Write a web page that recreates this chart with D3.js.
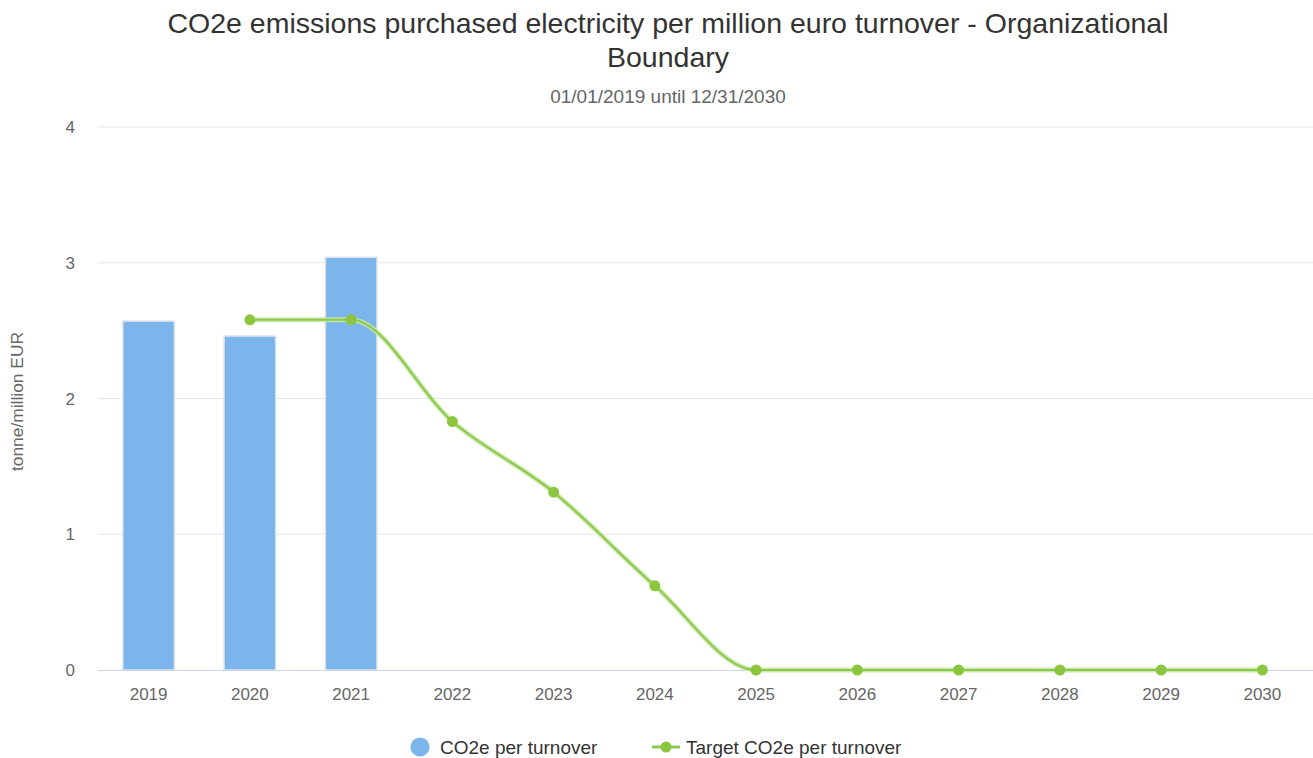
<!DOCTYPE html>
<html><head><meta charset="utf-8">
<script src="https://cdn.jsdelivr.net/npm/d3@7"></script>
<style>body{margin:0;background:#fff;} svg text{font-family:"Liberation Sans",Arial,sans-serif;}</style>
</head><body>
<svg id="c" width="1313" height="758" font-family="Liberation Sans, Arial, sans-serif"></svg>
<script>
const categories = ["2019","2020","2021","2022","2023","2024","2025","2026","2027","2028","2029","2030"];
const co2eValues = [2.57, 2.46, 3.04, null, null, null, null, null, null, null, null, null];
const targetValues = [null, 2.58, 2.58, 1.83, 1.31, 0.62, 0, 0, 0, 0, 0, 0];
const yTicks = [0, 1, 2, 3, 4];
const titleLines = ["CO2e emissions purchased electricity per million euro turnover - Organizational", "Boundary"];
const subtitle = "01/01/2019 until 12/31/2030";
const yTitle = "tonne/million EUR";
const seriesNames = ["CO2e per turnover", "Target CO2e per turnover"];

(function(){
const svg = d3.select("#c");
const pl = 98, pr = 1313, pt = 127, pb = 670;
const x = d3.scaleBand().domain(categories).range([pl, pr]).paddingInner(0.5).paddingOuter(0.25);
const xc = d3.scaleBand().domain(categories).range([pl, pr]);
const y = d3.scaleLinear().domain([0, 4]).range([pb, pt]);

// titles
svg.append("text").attr("x", 668).attr("y", 33).attr("text-anchor", "middle")
  .attr("font-size", 28.5).attr("fill", "#333").text(titleLines[0]);
svg.append("text").attr("x", 668).attr("y", 67).attr("text-anchor", "middle")
  .attr("font-size", 28.5).attr("fill", "#333").text(titleLines[1]);
svg.append("text").attr("x", 668).attr("y", 103).attr("text-anchor", "middle")
  .attr("font-size", 19).attr("fill", "#666").text(subtitle);

// grid
svg.append("g").selectAll("line").data(yTicks.filter(d => d > 0)).join("line")
  .attr("x1", pl).attr("x2", pr).attr("y1", d => y(d)).attr("y2", d => y(d))
  .attr("stroke", "#e6e6e6").attr("stroke-width", 1);
svg.append("g").selectAll("text").data(yTicks).join("text")
  .attr("x", 75).attr("y", d => y(d) + 6).attr("text-anchor", "end")
  .attr("font-size", 17).attr("fill", "#666").text(d => d);
svg.append("text").attr("transform", `translate(23,${(pt + pb) / 2 + 3}) rotate(-90)`)
  .attr("text-anchor", "middle").attr("font-size", 17.4).attr("fill", "#666").text(yTitle);

// bars
svg.append("g").selectAll("rect").data(categories.map((c, i) => ({c, v: co2eValues[i]})).filter(d => d.v != null)).join("rect")
  .attr("x", d => x(d.c) - 0.5).attr("width", x.bandwidth() + 1)
  .attr("y", d => y(d.v)).attr("height", d => y(0) - y(d.v))
  .attr("fill", "#7cb5ec").attr("stroke", "#dde3ea").attr("stroke-width", 1.5);

// x axis
svg.append("line").attr("x1", pl).attr("x2", pr).attr("y1", pb + 0.5).attr("y2", pb + 0.5)
  .attr("stroke", "#ccd6eb");
svg.append("g").selectAll("text").data(categories).join("text")
  .attr("x", d => xc(d) + xc.bandwidth() / 2).attr("y", 700).attr("text-anchor", "middle")
  .attr("font-size", 17).attr("fill", "#666").text(d => d);

// target line
const pts = categories.map((c, i) => ({c, v: targetValues[i]})).filter(d => d.v != null);
const line = d3.line().x(d => xc(d.c) + xc.bandwidth() / 2).y(d => y(d.v)).curve(d3.curveMonotoneX);
svg.append("path").attr("d", line(pts)).attr("fill", "none").attr("stroke", "#c8e6a6").attr("stroke-width", 5).attr("opacity", 0.9);
svg.append("path").attr("d", line(pts)).attr("fill", "none").attr("stroke", "#8bc94a").attr("stroke-width", 2);
svg.append("g").selectAll("circle").data(pts).join("circle")
  .attr("cx", d => xc(d.c) + xc.bandwidth() / 2).attr("cy", d => y(d.v)).attr("r", 5.5)
  .attr("fill", "#8cc63f");

// legend
const lg = svg.append("g");
lg.append("circle").attr("cx", 420).attr("cy", 747).attr("r", 9.5).attr("fill", "#7cb5ec");
lg.append("text").attr("x", 440).attr("y", 754).attr("font-size", 19).attr("fill", "#333").text(seriesNames[0]);
lg.append("line").attr("x1", 652).attr("x2", 680).attr("y1", 747).attr("y2", 747).attr("stroke", "#8bc94a").attr("stroke-width", 3);
lg.append("circle").attr("cx", 666).attr("cy", 747).attr("r", 5.5).attr("fill", "#8cc63f");
lg.append("text").attr("x", 686).attr("y", 754).attr("font-size", 19).attr("fill", "#333").text(seriesNames[1]);
})();
</script>
</body></html>
